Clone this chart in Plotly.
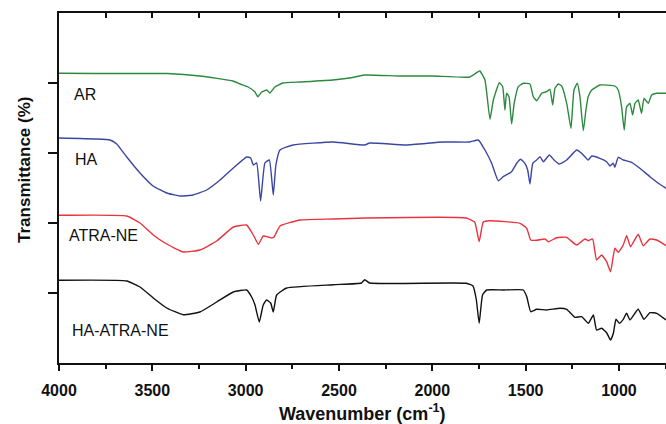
import plotly.graph_objects as go

# Wavenumber (cm^-1) and transmittance (offset, arbitrary units)
ar_wn = [4000, 3800, 3600, 3420, 3245, 3068, 3030, 2987, 2950, 2935, 2914, 2887, 2870, 2843, 2800,
         2709, 2532, 2443, 2362, 2175, 1996, 1800, 1752, 1745, 1718, 1691, 1673, 1641, 1623, 1611,
         1602, 1589, 1575, 1561, 1539, 1513, 1477, 1459, 1441, 1414, 1387, 1370, 1355, 1343, 1325,
         1307, 1280, 1257, 1241, 1223, 1209, 1191, 1177, 1165, 1146, 1102, 1022, 1004, 986, 972,
         959, 941, 927, 914, 897, 879, 866, 843, 825, 798, 748]
ar_t = [289.7, 289.5, 289.5, 289.5, 287, 282, 279, 276, 271, 266.3, 271, 273, 270, 276, 280,
        281, 283, 285, 288, 287, 287, 286, 291.7, 292, 283, 243.7, 263, 280.3, 276.3, 253,
        269.7, 266.3, 239, 260, 276.3, 279.7, 279, 266.3, 262.3, 269.7, 271.3, 273.7, 258, 274.7, 279,
        277, 259.7, 234.7, 273, 279.7, 266.3, 232.3, 253, 266.3, 273, 278, 277, 273, 256.3, 233,
        256.3, 259.7, 248, 259.7, 263, 249.7, 264.7, 259.7, 268, 269.7, 269.7]

ha_wn = [4000, 3800, 3727, 3691, 3637, 3566, 3496, 3423, 3352, 3282, 3209, 3137, 3066, 2995, 2973,
         2959, 2941, 2920, 2897, 2873, 2852, 2838, 2816, 2745, 2530, 2362, 2336, 2141, 1943, 1800,
         1754, 1718, 1682, 1647, 1620, 1575, 1548, 1527, 1504, 1489, 1477, 1462, 1441, 1423, 1405,
         1373, 1348, 1320, 1280, 1227, 1200, 1165, 1146, 1102, 1066, 1048, 1030, 1022, 1004, 977,
         932, 888, 834, 781, 748]
ha_t = [225, 224, 223, 219, 206, 190, 177, 170, 167, 168, 173, 183, 195, 206, 205,
        198, 200, 162, 200, 203, 168, 198, 213, 218, 221, 218, 220, 218, 221, 221,
        223, 213, 199.7, 182.3, 186.3, 191.3, 199.7, 203.7, 199.7, 193, 179, 199.7, 203, 206.3, 201.3,
        208, 203, 199, 203, 213, 209.7, 203, 207, 204.7, 201.3, 197, 199.7, 195.7, 205.7, 203,
        200.7, 194.7, 186.3, 178.7, 174.7]

ne_wn = [4000, 3637, 3566, 3495, 3423, 3334, 3245, 3155, 3066, 2995, 2959, 2932, 2906, 2879, 2861,
         2848, 2816, 2709, 2532, 2354, 1818, 1773, 1749, 1727, 1691, 1530, 1494, 1473, 1441, 1396,
         1378, 1334, 1280, 1227, 1182, 1164, 1141, 1120, 1093, 1066, 1045, 1022, 1004, 977, 959,
         938, 897, 870, 834, 798, 748]
ne_t = [147.7, 147, 140, 128, 119, 111, 113, 122, 136, 138, 128, 118.7, 127, 126, 125,
        126, 137, 143, 144, 145, 145, 141, 121.3, 141, 142.3, 139.7, 134.7, 123, 122.7, 124,
        121.3, 125.3, 125.7, 118, 124, 122.3, 124, 103, 108, 101.3, 91.3, 114.7, 110.7, 118, 127.3,
        116.3, 128.7, 117.3, 124, 123, 117.3]

hane_wn = [4000, 3637, 3566, 3495, 3423, 3334, 3245, 3155, 3066, 2995, 2968, 2950, 2927, 2906, 2888,
           2866, 2852, 2834, 2780, 2531, 2380, 2362, 2336, 1818, 1782, 1764, 1749, 1731, 1709, 1620,
           1513, 1494, 1473, 1441, 1387, 1316, 1280, 1236, 1200, 1164, 1137, 1120, 1093, 1066, 1045,
           1030, 1016, 998, 977, 959, 941, 897, 866, 834, 798, 748]
hane_t = [82.7, 82, 76, 65, 55, 48.3, 51, 61, 71, 73, 66, 58, 41, 58, 63,
          60, 51, 68, 75, 78.3, 80, 83.3, 80, 79.7, 77, 63, 39.7, 68, 73, 73,
          73, 66.3, 51.3, 53.7, 53, 54.7, 53.7, 45.7, 46.3, 39.7, 48, 33, 34.7, 30.3, 23,
          29.7, 43.7, 39.7, 43.7, 49.7, 43, 53.7, 43.7, 50.3, 49.7, 43]

series = [
    ("AR", ar_wn, ar_t, "#2b8a3e", 3932, 269),
    ("HA", ha_wn, ha_t, "#3b46a3", 3923, 204),
    ("ATRA-NE", ne_wn, ne_t, "#e8343e", 3959, 128),
    ("HA-ATRA-NE", hane_wn, hane_t, "#111111", 3941, 33),
]

x_ticks = [4000, 3500, 3000, 2500, 2000, 1500, 1000]
y_ticks = [70, 140, 210, 280]

fig = go.Figure()
for name, wn, t, col, lx, ly in series:
    fig.add_trace(go.Scatter(x=wn, y=t, mode="lines", name=name,
                             line=dict(color=col, width=1.4, shape="spline", smoothing=0.4),
                             showlegend=False, hoverinfo="skip"))
    fig.add_annotation(x=lx, y=ly, xref="x", yref="y", text=name, showarrow=False,
                       xanchor="left", yanchor="middle",
                       font=dict(family="Liberation Sans, Arial", size=16, color="#111"))

# dummy trace so the mirrored top axis is drawn
fig.add_trace(go.Scatter(x=[4000], y=[None], xaxis="x2", yaxis="y", showlegend=False,
                         hoverinfo="skip", mode="lines"))

tickfont = dict(family="Liberation Sans, Arial", size=16, color="#111", weight="bold")
fig.update_layout(
    width=666, height=424,
    margin=dict(l=59, r=0, t=13, b=61, autoexpand=False),
    paper_bgcolor="white", plot_bgcolor="white",
    xaxis=dict(range=[4000, 748], tickvals=x_ticks, ticks="outside", ticklen=6, tickwidth=2,
               tickcolor="#111", showline=True, linewidth=2, linecolor="#111", automargin=False,
               showgrid=False, zeroline=False, tickfont=tickfont, ticklabelstandoff=6,
               minor=dict(dtick=250, tick0=0, ticks="outside", ticklen=3.5, tickwidth=1.5,
                          tickcolor="#111", showgrid=False)),
    xaxis2=dict(range=[4000, 748], overlaying="x", side="top", anchor="y", ticks="inside",
                dtick=250, tick0=0, ticklen=5, tickwidth=1.5, tickcolor="#111", automargin=False,
                showline=True, linewidth=2, linecolor="#111", showticklabels=False,
                showgrid=False, zeroline=False),
    yaxis=dict(range=[0, 350], tickvals=y_ticks, ticks="outside", ticklen=9, tickwidth=2,
               tickcolor="#111", showline=True, linewidth=2, linecolor="#111", automargin=False,
               showticklabels=False, showgrid=False, zeroline=False),
)
fig.add_annotation(x=-0.058, y=0.551, xref="paper", yref="paper", text="Transmittance (%)",
                   textangle=-90, showarrow=False, xanchor="center", yanchor="middle",
                   font=dict(family="Liberation Sans, Arial", size=17, color="#111", weight="bold"))
fig.add_annotation(x=0.5, y=-0.14, xref="paper", yref="paper", text="Wavenumber (cm<sup>-1</sup>)",
                   showarrow=False, xanchor="center", yanchor="middle",
                   font=dict(family="Liberation Sans, Arial", size=18, color="#111", weight="bold"))

fig.write_html("out.html", config={"displayModeBar": False},
               post_script="document.body.style.margin='0';document.body.style.overflow='hidden';")
